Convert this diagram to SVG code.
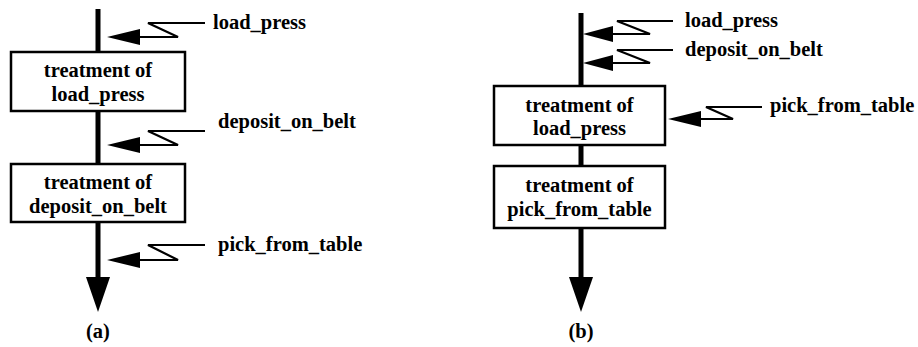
<svg xmlns="http://www.w3.org/2000/svg" width="918" height="347" viewBox="0 0 918 347">
<style>
.flow{stroke:#000;stroke-width:5;fill:none}
.box{fill:#fff;stroke:#000;stroke-width:2.5}
.sig{fill:none;stroke:#000;stroke-width:2.2;stroke-linejoin:miter}
.head{fill:#000;stroke:none}
text{font-family:"Liberation Serif","Times New Roman",serif;font-weight:bold;font-size:20.5px;fill:#000}
.c{text-anchor:middle}
</style>
<rect width="918" height="347" fill="#fff"/>
<g id="connectors">
  <line class="flow" x1="98" y1="9" x2="98" y2="280"/>
  <polygon class="head" points="86,277 110,277 98,312"/>
  <line class="flow" x1="581" y1="13" x2="581" y2="280"/>
  <polygon class="head" points="569,277 593,277 581,312"/>
</g>
<g id="a-box1">
  <rect class="box" x="11" y="52" width="174" height="59"/>
  <text class="c" x="98" y="77">treatment of</text>
  <text class="c" x="98" y="101">load_press</text>
</g>
<g id="a-box2">
  <rect class="box" x="11" y="164" width="174" height="58"/>
  <text class="c" x="98" y="189">treatment of</text>
  <text class="c" x="98" y="213">deposit_on_belt</text>
</g>
<g id="a-sig1">
  <polyline class="sig" points="205,23 148,23 178,37 138,37"/>
  <polygon class="head" points="140,29 140,45 107,37"/>
  <text x="213" y="29">load_press</text>
</g>
<g id="a-sig2">
  <polyline class="sig" points="205,131 148,131 178,145 138,145"/>
  <polygon class="head" points="140,137 140,153 107,145"/>
  <text x="218" y="128">deposit_on_belt</text>
</g>
<g id="a-sig3">
  <polyline class="sig" points="205,245 148,245 178,260 138,260"/>
  <polygon class="head" points="140,252 140,268 107,260"/>
  <text x="218" y="251">pick_from_table</text>
</g>
<text id="label-a" class="c" x="98" y="338">(a)</text>
<g id="b-box1">
  <rect class="box" x="494" y="86" width="171" height="59"/>
  <text class="c" x="579.5" y="112">treatment of</text>
  <text class="c" x="579.5" y="135">load_press</text>
</g>
<g id="b-box2">
  <rect class="box" x="494" y="166" width="171" height="62"/>
  <text class="c" x="579.5" y="192">treatment of</text>
  <text class="c" x="579.5" y="216">pick_from_table</text>
</g>
<g id="b-sig1">
  <polyline class="sig" points="673,21 617,21 650,34 611,34"/>
  <polygon class="head" points="613,26 613,42 583,34"/>
  <text x="685" y="27">load_press</text>
</g>
<g id="b-sig2">
  <polyline class="sig" points="673,50 617,50 650,63 611,63"/>
  <polygon class="head" points="613,55 613,71 583,63"/>
  <text x="685" y="56">deposit_on_belt</text>
</g>
<g id="b-sig3">
  <polyline class="sig" points="762,107 706,107 733,119 699,119"/>
  <polygon class="head" points="701,111 701,127 668,119"/>
  <text x="770" y="112">pick_from_table</text>
</g>
<text id="label-b" class="c" x="581" y="338">(b)</text>
</svg>
